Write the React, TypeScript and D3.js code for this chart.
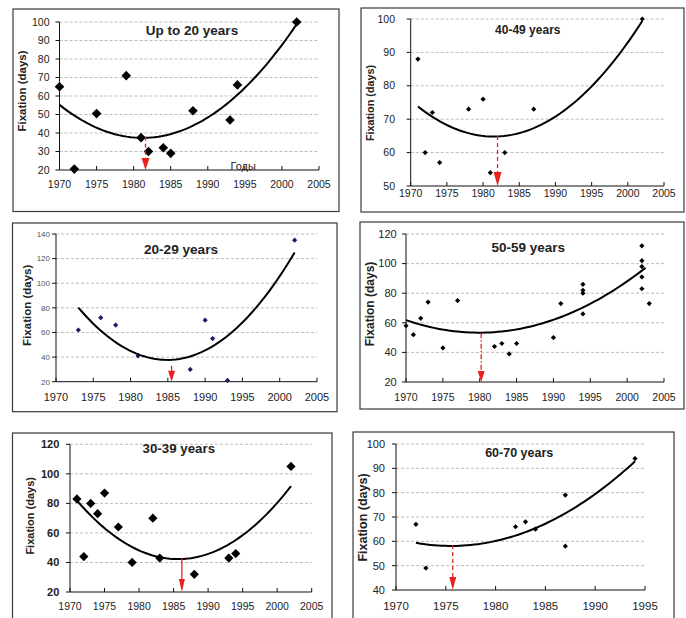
import React from "react";
import * as d3 from "d3";

// ---------- shared tick labels ----------
const xTicksA = [1970, 1975, 1980, 1985, 1990, 1995, 2000, 2005];
const xTicksB = [1970, 1975, 1980, 1985, 1990, 1995];

// ---------- Panel 1: Up to 20 years ----------
const p1Years = [1970, 1972, 1975, 1979, 1981, 1982, 1984, 1985, 1988, 1993, 1994, 2002];
const p1Values = [65, 20.5, 50.5, 71, 37.5, 30, 32, 29, 52, 47, 66, 100];
// trend line (Excel polynomial trend, order 2)
const p1TrendYears = [1970, 1975, 1981, 1985, 1990, 1995, 2000, 2002];
const p1TrendValues = [54.2, 43.8, 38.3, 39.8, 48, 62.5, 87.5, 100];
const p1YTicks = [20, 30, 40, 50, 60, 70, 80, 90, 100];
const p1Arrow = [1981.6, 38];

// ---------- Panel 2: 40-49 years ----------
const p2Years = [1971, 1972, 1973, 1974, 1978, 1980, 1981, 1983, 1987, 2002];
const p2Values = [88, 60, 72, 57, 73, 76, 54, 60, 73, 100];
const p2TrendYears = [1971, 1975, 1981.5, 1985, 1990, 1995, 2000, 2002];
const p2TrendValues = [73.3, 68.8, 65, 66.3, 70, 79.8, 92.5, 100];
const p2YTicks = [50, 60, 70, 80, 90, 100];
const p2Arrow = [1982, 65];

// ---------- Panel 3: 20-29 years ----------
const p3Years = [1973, 1976, 1978, 1981, 1988, 1990, 1991, 1993, 2002];
const p3Values = [62, 72, 66, 41, 30, 70, 55, 21, 135];
const p3TrendYears = [1973, 1976, 1980, 1985, 1990, 1995, 2000, 2002];
const p3TrendValues = [79, 63, 45.5, 37, 45, 68.5, 105.3, 125.4];
const p3YTicks = [20, 40, 60, 80, 100, 120, 140];
const p3Arrow = [1985.5, 33];

// ---------- Panel 4: 50-59 years ----------
const p4Years = [1970, 1971, 1972, 1973, 1975, 1977, 1982, 1983, 1984, 1985, 1990, 1991,
  1994, 1994, 1994, 1994, 2002, 2002, 2002, 2002, 2002, 2003];
const p4Values = [58, 52, 63, 74, 43, 75, 44, 46, 39, 46, 50, 73,
  86, 82, 80, 66, 112, 102, 98, 91, 83, 73];
const p4TrendYears = [1970, 1975, 1980, 1985, 1990, 1995, 2000, 2002.5];
const p4TrendValues = [61.2, 56, 53.6, 56.3, 61.7, 71.6, 87.8, 98];
const p4YTicks = [20, 40, 60, 80, 100, 120];
const p4Arrow = [1980.2, 53];

// ---------- Panel 5: 30-39 years ----------
const p5Years = [1971, 1972, 1973, 1974, 1975, 1977, 1979, 1982, 1983, 1988, 1993, 1994, 2002];
const p5Values = [83, 44, 80, 73, 87, 64, 40, 70, 43, 32, 43, 46, 105];
const p5TrendYears = [1971, 1975, 1980, 1985.8, 1990, 1995, 2000, 2002];
const p5TrendValues = [81.6, 63.1, 49, 42.3, 46.2, 57.5, 78.5, 93.6];
const p5YTicks = [20, 40, 60, 80, 100, 120];
const p5Arrow = [1986.2, 42.8];

// ---------- Panel 6: 60-70 years ----------
const p6Years = [1972, 1973, 1982, 1983, 1984, 1987, 1987, 1994];
const p6Values = [67, 49, 66, 68, 65, 79, 58, 94];
const p6TrendYears = [1972, 1975.7, 1980, 1985, 1990, 1994];
const p6TrendValues = [59.4, 58.2, 59.9, 67.2, 79.8, 92.7];
const p6YTicks = [40, 50, 60, 70, 80, 90, 100];
const p6Arrow = [1975.7, 58.5];

const FONT = "'Liberation Sans', Arial, sans-serif";

type Cfg = {
  frame: [number, number, number, number];
  xr: [number, number]; xd: [number, number];
  yr: [number, number]; yd: [number, number];
  xTicks: number[]; yTicks: number[];
  years: number[]; values: number[];
  tYears: number[]; tValues: number[];
  arrow: number[]; arrowStyle: string; headH: number; headW: number;
  title: string; titleX: number; titleY: number; titleSize: number;
  yTitleX: number; yTitleY: number; yTitleSize: number;
  xLabelY: number; xLabelSize: number;
  yLabelX: number; yLabelSize: number; yLabelWeight: string; yLabelColor: string;
  markerR: number; markerColor: string;
  extra?: React.ReactNode;
};

const diamond = (r: number) => `M0,${-r}L${r},0L0,${r}L${-r},0Z`;

// least-squares order-2 polynomial through the read trend points (smooths reading error)
function quadFit(xs: number[], ys: number[]) {
  const x0 = d3.mean(xs) as number;
  let s0 = 0, s1 = 0, s2 = 0, s3 = 0, s4 = 0, t0 = 0, t1 = 0, t2 = 0;
  xs.forEach((xv, i) => {
    const u = xv - x0, v = ys[i];
    s0 += 1; s1 += u; s2 += u * u; s3 += u * u * u; s4 += u * u * u * u;
    t0 += v; t1 += u * v; t2 += u * u * v;
  });
  const M = [[s0, s1, s2, t0], [s1, s2, s3, t1], [s2, s3, s4, t2]];
  for (let i = 0; i < 3; i++) {
    for (let k = i + 1; k < 3; k++) {
      const f = M[k][i] / M[i][i];
      for (let j = i; j < 4; j++) M[k][j] -= f * M[i][j];
    }
  }
  const c = [0, 0, 0];
  for (let i = 2; i >= 0; i--) {
    let s = M[i][3];
    for (let j = i + 1; j < 3; j++) s -= M[i][j] * c[j];
    c[i] = s / M[i][i];
  }
  return (xv: number) => { const u = xv - x0; return c[0] + c[1] * u + c[2] * u * u; };
}

function Panel({ c }: { c: Cfg }) {
  const x = d3.scaleLinear().domain(c.xd).range(c.xr);
  const y = d3.scaleLinear().domain(c.yd).range(c.yr);
  const f = quadFit(c.tYears, c.tValues);
  const ext = d3.extent(c.tYears) as [number, number];
  const samples = d3.range(0, 61).map((i) => ext[0] + ((ext[1] - ext[0]) * i) / 60);
  const line = d3.line<number>().x((t) => x(t)).y((t) => y(f(t)));
  const [fx0, fy0, fx1, fy1] = c.frame;
  const ax = x(c.arrow[0]);
  const aTop = y(c.arrow[1]);
  const aBot = y(c.yd[0]);
  const dash = c.arrowStyle === "dash" ? "4,3" : c.arrowStyle === "dashdot" ? "5,2,1.5,2" : undefined;
  return (
    <g>
      <rect x={fx0} y={fy0} width={fx1 - fx0} height={fy1 - fy0} fill="#fff" stroke="#3a3a3a" strokeWidth={1.2} />
      {c.yTicks.slice(1).map((t) => (
        <line key={"g" + t} x1={x(c.xd[0])} x2={x(c.xd[1])} y1={y(t)} y2={y(t)}
          stroke="#b4b4b4" strokeWidth={0.9} strokeDasharray="3,2" />
      ))}
      <line x1={x(c.xd[0])} x2={x(c.xd[0])} y1={y(c.yd[0])} y2={y(c.yd[1])} stroke="#111" strokeWidth={1} />
      <line x1={x(c.xd[0])} x2={x(c.xd[1])} y1={y(c.yd[0])} y2={y(c.yd[0])} stroke="#111" strokeWidth={1} />
      {c.yTicks.map((t) => (
        <g key={"yt" + t}>
          <line x1={x(c.xd[0]) - 4} x2={x(c.xd[0])} y1={y(t)} y2={y(t)} stroke="#111" />
          <text x={c.yLabelX} y={y(t)} dy="0.35em" textAnchor="end" fontSize={c.yLabelSize}
            fontWeight={c.yLabelWeight} fill={c.yLabelColor} fontFamily={FONT}>{t}</text>
        </g>
      ))}
      {c.xTicks.map((t) => (
        <g key={"xt" + t}>
          <line x1={x(t)} x2={x(t)} y1={y(c.yd[0])} y2={y(c.yd[0]) - 4} stroke="#111" />
          <text x={x(t)} y={c.xLabelY} dy="0.35em" textAnchor="middle" fontSize={c.xLabelSize}
            fill="#222" fontFamily={FONT}>{t}</text>
        </g>
      ))}
      <text x={c.titleX} y={c.titleY} dy="0.35em" textAnchor="middle" fontSize={c.titleSize}
        fontWeight="bold" fill="#222" fontFamily={FONT}>{c.title}</text>
      <text transform={`translate(${c.yTitleX},${c.yTitleY}) rotate(-90)`} dy="0.35em" textAnchor="middle"
        fontSize={c.yTitleSize} fontWeight="bold" fill="#222" fontFamily={FONT}>Fixation (days)</text>
      {c.extra}
      {c.years.map((yr, i) => (
        <path key={"m" + i} d={diamond(c.markerR)} transform={`translate(${x(yr)},${y(c.values[i])})`}
          fill={c.markerColor} />
      ))}
      <path d={line(samples) || ""} fill="none" stroke="#000" strokeWidth={2} />
      <line x1={ax} x2={ax} y1={aTop} y2={aBot - c.headH + 1} stroke="#e8231d" strokeWidth={1.3}
        strokeDasharray={dash} />
      <path d={`M${ax - c.headW},${aBot - c.headH}L${ax + c.headW},${aBot - c.headH}L${ax},${aBot}Z`} fill="#e8231d" />
    </g>
  );
}

const panels: Cfg[] = [
  {
    frame: [13, 9, 339, 211.5], xr: [59.5, 319], xd: [1970, 2005], yr: [170, 22], yd: [20, 100],
    xTicks: xTicksA, yTicks: p1YTicks, years: p1Years, values: p1Values,
    tYears: p1TrendYears, tValues: p1TrendValues, arrow: p1Arrow, arrowStyle: "dash", headH: 12, headW: 4,
    title: "Up to 20 years", titleX: 192, titleY: 30, titleSize: 13.5,
    yTitleX: 21.7, yTitleY: 91, yTitleSize: 11.5, xLabelY: 184.3, xLabelSize: 10.5,
    yLabelX: 49.5, yLabelSize: 10.5, yLabelWeight: "normal", yLabelColor: "#222",
    markerR: 4.8, markerColor: "#000",
    extra: <text x={230.5} y={169.5} fontSize={11} fill="#222" fontFamily={FONT}>Годы</text>,
  },
  {
    frame: [361, 8, 684, 212], xr: [410.7, 664], xd: [1970, 2005], yr: [186, 19], yd: [50, 100],
    xTicks: xTicksA, yTicks: p2YTicks, years: p2Years, values: p2Values,
    tYears: p2TrendYears, tValues: p2TrendValues, arrow: p2Arrow, arrowStyle: "dash", headH: 14, headW: 4,
    title: "40-49 years", titleX: 527.8, titleY: 30, titleSize: 12,
    yTitleX: 370, yTitleY: 103, yTitleSize: 10.8, xLabelY: 193, xLabelSize: 10.5,
    yLabelX: 395, yLabelSize: 10.5, yLabelWeight: "normal", yLabelColor: "#222",
    markerR: 2.6, markerColor: "#000",
  },
  {
    frame: [12.5, 223, 337, 411.7], xr: [56, 317], xd: [1970, 2005], yr: [381.7, 234], yd: [20, 140],
    xTicks: xTicksA, yTicks: p3YTicks, years: p3Years, values: p3Values,
    tYears: p3TrendYears, tValues: p3TrendValues, arrow: p3Arrow, arrowStyle: "solid", headH: 11, headW: 3.5,
    title: "20-29 years", titleX: 181, titleY: 249, titleSize: 13.6,
    yTitleX: 26.7, yTitleY: 305.3, yTitleSize: 11.5, xLabelY: 396.7, xLabelSize: 11,
    yLabelX: 50, yLabelSize: 8, yLabelWeight: "normal", yLabelColor: "#555",
    markerR: 2.6, markerColor: "#1b1b66",
  },
  {
    frame: [360, 222, 684, 409], xr: [406, 664], xd: [1970, 2005], yr: [382, 234], yd: [20, 120],
    xTicks: xTicksA, yTicks: p4YTicks, years: p4Years, values: p4Values,
    tYears: p4TrendYears, tValues: p4TrendValues, arrow: p4Arrow, arrowStyle: "dashdot", headH: 11, headW: 3.5,
    title: "50-59 years", titleX: 528.3, titleY: 247.7, titleSize: 13.5,
    yTitleX: 370, yTitleY: 304, yTitleSize: 12, xLabelY: 397.7, xLabelSize: 10.5,
    yLabelX: 396.7, yLabelSize: 11, yLabelWeight: "normal", yLabelColor: "#222",
    markerR: 2.6, markerColor: "#000",
  },
  {
    frame: [12.5, 433, 332, 640], xr: [70, 311.7], xd: [1970, 2005], yr: [592, 444.3], yd: [20, 120],
    xTicks: xTicksA, yTicks: p5YTicks, years: p5Years, values: p5Values,
    tYears: p5TrendYears, tValues: p5TrendValues, arrow: p5Arrow, arrowStyle: "solid", headH: 13, headW: 3,
    title: "30-39 years", titleX: 178.8, titleY: 448.3, titleSize: 13.3,
    yTitleX: 30, yTitleY: 515.8, yTitleSize: 11, xLabelY: 606.7, xLabelSize: 10.5,
    yLabelX: 59.3, yLabelSize: 11, yLabelWeight: "bold", yLabelColor: "#222",
    markerR: 4.6, markerColor: "#000",
  },
  {
    frame: [353, 432, 674, 640], xr: [396, 645], xd: [1970, 1995], yr: [590, 444], yd: [40, 100],
    xTicks: xTicksB, yTicks: p6YTicks, years: p6Years, values: p6Values,
    tYears: p6TrendYears, tValues: p6TrendValues, arrow: p6Arrow, arrowStyle: "dash", headH: 13, headW: 3.5,
    title: "60-70 years", titleX: 519.2, titleY: 452.7, titleSize: 12.5,
    yTitleX: 362.3, yTitleY: 517.5, yTitleSize: 12.5, xLabelY: 605.7, xLabelSize: 11.5,
    yLabelX: 385, yLabelSize: 11, yLabelWeight: "normal", yLabelColor: "#222",
    markerR: 2.6, markerColor: "#000",
  },
];

export default function App() {
  return (
    <svg width={686} height={618} style={{ position: "absolute", left: 0, top: 0, background: "#fff" }}>
      <rect x={0} y={0} width={686} height={618} fill="#fff" />
      {panels.map((c, i) => <Panel key={i} c={c} />)}
    </svg>
  );
}
